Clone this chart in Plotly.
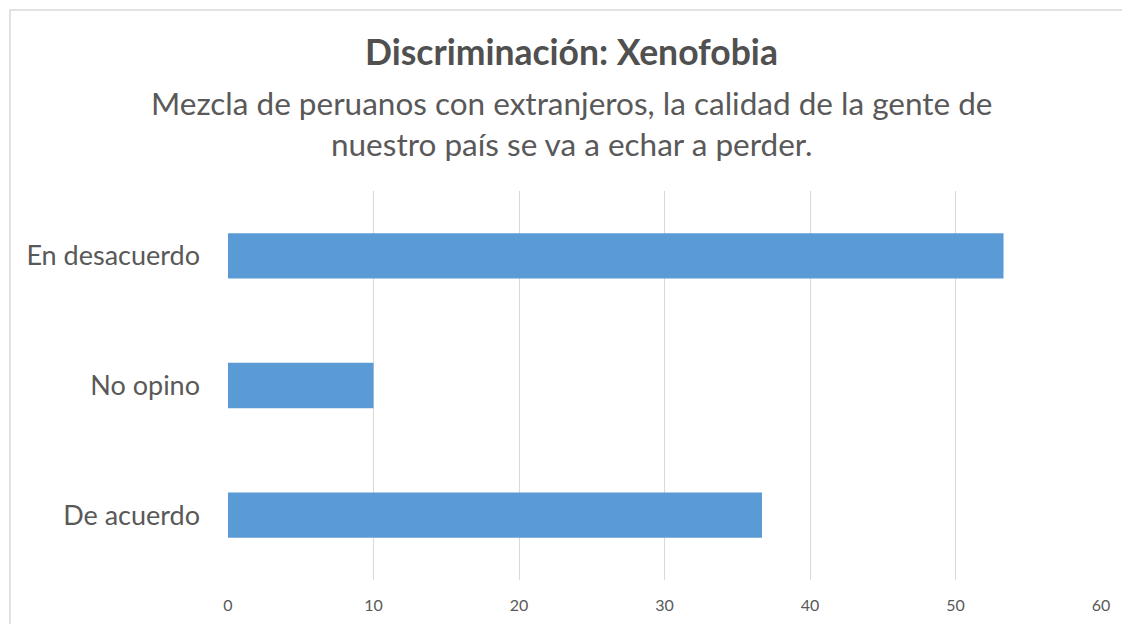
import plotly.graph_objects as go

categories = ["De acuerdo", "No opino", "En desacuerdo"]
values = [36.7, 10.0, 53.3]
tick_vals = [0, 10, 20, 30, 40, 50, 60]

title = "Discriminación: Xenofobia"
subtitle = "Mezcla de peruanos con extranjeros, la calidad de la gente de<br>nuestro país se va a echar a perder."

W, H = 1122, 624
L, R, T, B = 228, 21, 191, 44
pw = W - L - R
ph = H - T - B


def px(x):
    return (x - L) / pw


def py(y):
    return (H - B - y) / ph


fig = go.Figure(go.Bar(
    x=values, y=categories, orientation="h",
    marker=dict(color="#5B9BD5", line=dict(width=0)),
    width=0.35,
))

fig.update_layout(
    width=W, height=H,
    paper_bgcolor="white", plot_bgcolor="white",
    margin=dict(l=L, r=R, t=T, b=B),
    showlegend=False,
    font=dict(family="Lato, sans-serif", color="#595959"),
    xaxis=dict(range=[0, 60], tickvals=tick_vals, showgrid=True, gridcolor="#d9d9d9",
               gridwidth=1, zeroline=False, showline=False, ticks="",
               tickfont=dict(size=16, color="#595959"), ticklabelstandoff=14,
               automargin=False),
    yaxis=dict(showgrid=False, zeroline=False, showline=False, ticks="",
               tickfont=dict(size=27, color="#595959"), ticklabelstandoff=27,
               automargin=False),
    shapes=[dict(type="rect", xref="paper", yref="paper",
                 x0=px(10), x1=px(1135), y0=py(640), y1=py(10),
                 line=dict(color="#d9d9d9", width=1.5), fillcolor="rgba(0,0,0,0)")],
    annotations=[
        dict(text="<b>" + title + "</b>", xref="paper", yref="paper",
             x=px(571), y=py(52), xanchor="center", yanchor="middle",
             showarrow=False, font=dict(size=35.5, color="#505050")),
        dict(text=subtitle, xref="paper", yref="paper",
             x=px(571), y=py(123), xanchor="center", yanchor="middle",
             showarrow=False, font=dict(size=31.5, color="#595959")),
    ],
)

fig.write_html("out.html", config={"displayModeBar": False},
               post_script="document.body.style.margin='0';window.dispatchEvent(new Event('resize'));")
